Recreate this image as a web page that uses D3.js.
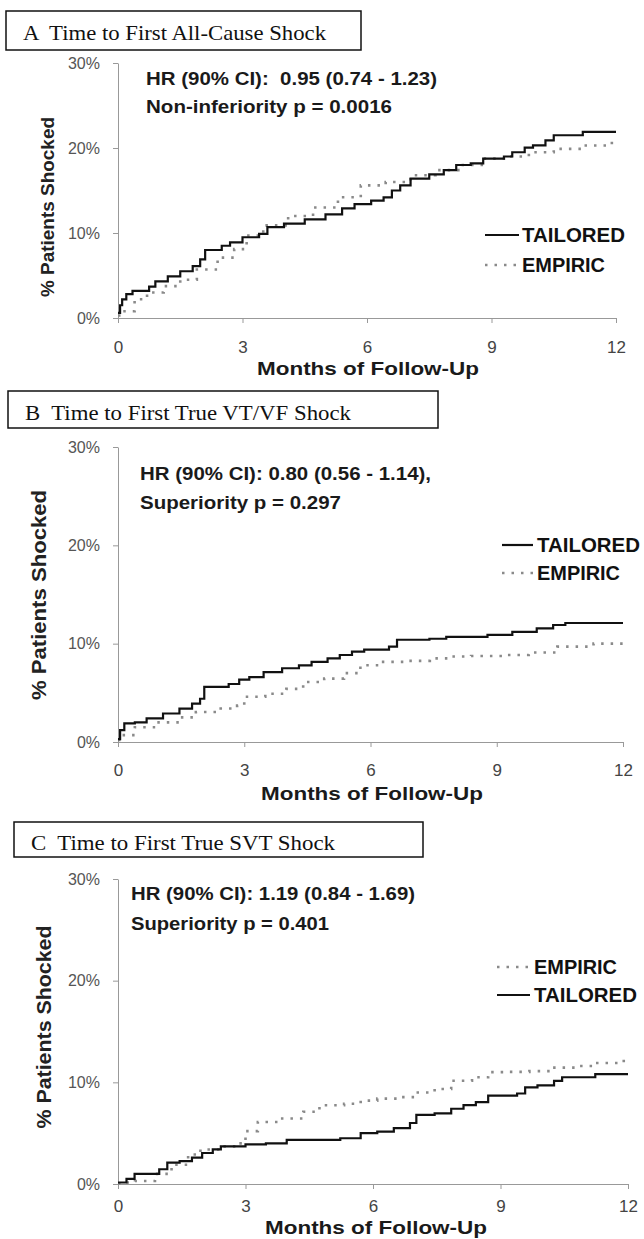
<!DOCTYPE html>
<html><head><meta charset="utf-8">
<script src="https://cdn.jsdelivr.net/npm/d3@7"></script>
<style>body{margin:0;background:#fff}svg{display:block}text{white-space:pre}</style>
</head><body>
<script>
// ---------- DATA ----------
const xTicks = [0, 3, 6, 9, 12];
const yTicks = [0, 10, 20, 30];
const titles = ["A  Time to First All-Cause Shock", "B  Time to First True VT/VF Shock", "C  Time to First True SVT Shock"];
const hrLines = ["HR (90% CI):  0.95 (0.74 - 1.23)", "HR (90% CI): 0.80 (0.56 - 1.14),", "HR (90% CI): 1.19 (0.84 - 1.69)"];
const pLines = ["Non-inferiority p = 0.0016", "Superiority p = 0.297", "Superiority p = 0.401"];
const seriesNames = ["TAILORED", "EMPIRIC"];

// [month, % shocked]
const tailoredA = [[0,0.6],[0.05,1.5],[0.1,2.2],[0.2,2.8],[0.35,3.2],[0.75,3.7],[0.9,4.3],[1.2,4.9],[1.5,5.5],[1.8,6.1],[1.98,6.9],[2.1,8.0],[2.5,8.5],[2.7,8.9],[3.0,9.5],[3.4,9.9],[3.6,10.7],[4.0,11.1],[4.5,11.6],[5.0,12.2],[5.4,12.9],[5.7,13.4],[6.1,13.8],[6.4,14.2],[6.6,15.0],[6.8,15.6],[7.05,16.4],[7.5,16.9],[7.85,17.4],[8.15,18.0],[8.5,18.2],[8.8,18.75],[9.3,19.0],[9.5,19.5],[9.8,20.05],[10.0,20.3],[10.3,20.9],[10.5,21.5],[11.2,21.9],[12,21.9]];
const empiricA = [[0,0.3],[0.1,0.8],[0.4,2.2],[0.7,3.0],[1.1,3.75],[1.5,4.5],[1.9,5.7],[2.4,7.1],[2.8,8.1],[3.1,9.7],[3.5,10.9],[4.1,12.0],[4.7,13.0],[5.3,14.2],[5.85,15.6],[6.45,16.0],[7.05,16.8],[7.65,17.4],[8.25,18.0],[8.8,18.75],[9.4,19.0],[9.9,19.5],[10.5,19.9],[11.2,20.3],[11.9,20.9],[12,20.9]];
const tailoredB = [[0,0.3],[0.05,1.2],[0.15,1.9],[0.4,2.0],[0.68,2.4],[1.07,2.9],[1.46,3.4],[1.76,3.9],[1.95,4.4],[2.05,5.6],[2.63,5.9],[2.88,6.35],[3.12,6.6],[3.46,7.1],[3.9,7.5],[4.3,7.8],[4.6,8.15],[4.98,8.5],[5.27,8.85],[5.56,9.2],[5.85,9.4],[6.44,9.7],[6.63,10.4],[7.4,10.5],[7.8,10.7],[8.78,10.9],[9.37,11.2],[9.95,11.55],[10.34,11.9],[10.63,12.1],[12,12.1]];
const empiricB = [[0,0.2],[0.1,0.7],[0.4,1.5],[0.9,2.0],[1.46,2.5],[1.85,3.05],[2.44,3.4],[2.83,3.7],[3.0,4.6],[3.5,4.9],[4.0,5.4],[4.4,6.1],[4.9,6.45],[5.37,7.0],[5.76,7.8],[6.24,8.15],[6.83,8.25],[7.41,8.5],[7.9,8.7],[8.39,8.75],[9.17,8.85],[9.76,9.1],[10.44,9.7],[11.3,10.0],[12,10.0]];
const tailoredC = [[0,0.15],[0.2,0.5],[0.39,1.0],[0.77,1.0],[0.97,1.45],[1.16,2.1],[1.45,2.25],[1.74,2.6],[1.98,3.05],[2.23,3.4],[2.42,3.7],[3.0,3.9],[3.48,4.0],[3.97,4.35],[5.23,4.5],[5.71,5.0],[6.1,5.15],[6.49,5.5],[6.87,6.0],[7.02,6.8],[7.45,6.95],[7.84,7.4],[8.13,7.75],[8.42,8.05],[8.71,8.7],[9.39,8.9],[9.58,9.5],[9.87,9.7],[10.26,10.15],[10.45,10.5],[11.23,10.8],[12,10.8]];
const empiricC = [[0,0.05],[0.1,0.15],[0.4,0.3],[0.87,1.0],[1.26,1.9],[1.65,2.9],[1.94,3.4],[2.42,3.7],[2.8,4.0],[3.0,5.2],[3.29,6.1],[3.78,6.45],[4.36,7.1],[4.74,7.75],[5.32,7.9],[5.71,8.2],[6.1,8.4],[6.68,8.55],[6.97,9.0],[7.45,9.35],[7.84,10.15],[8.33,10.5],[8.71,11.0],[9.2,11.03],[9.68,11.1],[10.16,11.45],[10.75,11.6],[11.23,11.9],[11.9,12.3],[12,12.3]];

// ---------- LAYOUT ----------
const panels = [
  {t:tailoredA, e:empiricA, x0:118, x1:616, y0:318, y30:63,
   box:[6,11,361,50], titleX:23, titleY:40, titleW:303,
   hrX:146, hrY:85, hrW:291, pY:113, pW:246,
   yTitle:[47,207,180,19], xTitleX:368, xTitleY:375, xLabY:347,
   legX0:485, legX1:519, legTx:522, legOrder:[["T",235],["E",265]]},
  {t:tailoredB, e:empiricB, x0:118, x1:623, y0:742, y30:447,
   box:[8,391,438,428], titleX:25, titleY:420, titleW:326,
   hrX:140, hrY:480, hrW:291, pY:509, pW:201,
   yTitle:[38,595,210,21], xTitleX:372, xTitleY:800, xLabY:770,
   legX0:502, legX1:533, legTx:537, legOrder:[["T",545],["E",573]]},
  {t:tailoredC, e:empiricC, x0:118, x1:628, y0:1184, y30:879,
   box:[14,822,423,857], titleX:31, titleY:850, titleW:304,
   hrX:131, hrY:900, hrW:284, pY:930, pW:198,
   yTitle:[43,1027,203,21], xTitleX:376, xTitleY:1234, xLabY:1206,
   legX0:497, legX1:530, legTx:534, legOrder:[["E",967],["T",995]]}
];

const W = 644, H = 1239;
const svg = d3.select("body").append("svg").attr("width", W).attr("height", H);
const sans = "Arial, 'Liberation Sans', Helvetica, sans-serif";
const serif = "'Times New Roman', 'Liberation Serif', Times, serif";

panels.forEach((p, i) => {
  const x = d3.scaleLinear().domain([0, 12]).range([p.x0, p.x1]);
  const y = d3.scaleLinear().domain([0, 30]).range([p.y0, p.y30]);

  // title box
  svg.append("rect").attr("x", p.box[0]).attr("y", p.box[1])
    .attr("width", p.box[2] - p.box[0]).attr("height", p.box[3] - p.box[1])
    .attr("fill", "none").attr("stroke", "#111").attr("stroke-width", 1.5);
  svg.append("text").attr("x", p.titleX).attr("y", p.titleY)
    .attr("font-family", serif).attr("font-size", 21).attr("fill", "#111")
    .attr("textLength", p.titleW).attr("lengthAdjust", "spacingAndGlyphs")
    .text(titles[i]);

  // y axis
  const gy = svg.append("g").attr("transform", `translate(${p.x0},0)`)
    .call(d3.axisLeft(y).tickValues(yTicks).tickFormat(d => d + "%").tickSize(5).tickSizeOuter(0).tickPadding(13));
  gy.select(".domain").attr("stroke", "#999");
  gy.selectAll(".tick line").attr("stroke", "#999");
  gy.selectAll(".tick text").attr("font-family", sans).attr("font-size", 16).attr("fill", "#555");

  // x axis
  const gx = svg.append("g").attr("transform", `translate(0,${p.y0})`)
    .call(d3.axisBottom(x).tickValues(xTicks).tickSize(5).tickSizeOuter(0));
  gx.select(".domain").attr("stroke", "#999");
  gx.selectAll(".tick line").attr("stroke", "#999");
  gx.selectAll(".tick text").attr("font-family", sans).attr("font-size", 17).attr("fill", "#444")
    .attr("y", p.xLabY - p.y0).attr("dy", "0.36em");

  // axis titles
  svg.append("text").attr("transform", `translate(${p.yTitle[0]},${p.yTitle[1]}) rotate(-90)`)
    .attr("text-anchor", "middle").attr("dy", "0.36em")
    .attr("font-family", sans).attr("font-weight", "bold").attr("font-size", p.yTitle[3]).attr("fill", "#222")
    .attr("textLength", p.yTitle[2]).attr("lengthAdjust", "spacingAndGlyphs")
    .text("% Patients Shocked");
  svg.append("text").attr("x", p.xTitleX).attr("y", p.xTitleY).attr("text-anchor", "middle")
    .attr("font-family", sans).attr("font-weight", "bold").attr("font-size", 19).attr("fill", "#1a1a1a")
    .attr("textLength", 222).attr("lengthAdjust", "spacingAndGlyphs")
    .text("Months of Follow-Up");

  // annotations
  svg.append("text").attr("x", p.hrX).attr("y", p.hrY)
    .attr("font-family", sans).attr("font-weight", "bold").attr("font-size", 19).attr("fill", "#1a1a1a")
    .attr("textLength", p.hrW).attr("lengthAdjust", "spacingAndGlyphs").text(hrLines[i]);
  svg.append("text").attr("x", p.hrX).attr("y", p.pY)
    .attr("font-family", sans).attr("font-weight", "bold").attr("font-size", 19).attr("fill", "#1a1a1a")
    .attr("textLength", p.pW).attr("lengthAdjust", "spacingAndGlyphs").text(pLines[i]);

  // curves
  const line = d3.line().x(d => x(d[0])).y(d => y(d[1])).curve(d3.curveStepAfter);
  svg.append("path").datum(p.e).attr("d", line).attr("fill", "none")
    .attr("stroke", "#8a8a8a").attr("stroke-width", 2.6).attr("stroke-dasharray", "2.5,7");
  svg.append("path").datum(p.t).attr("d", line).attr("fill", "none")
    .attr("stroke", "#111").attr("stroke-width", 2.2);

  // legend
  p.legOrder.forEach(([k, ly]) => {
    const isT = k === "T";
    svg.append("line").attr("x1", p.legX0).attr("x2", p.legX1).attr("y1", ly).attr("y2", ly)
      .attr("stroke", isT ? "#111" : "#8a8a8a").attr("stroke-width", isT ? 2.2 : 2.6)
      .attr("stroke-dasharray", isT ? null : "2.5,7");
    svg.append("text").attr("x", p.legTx).attr("y", ly).attr("dy", "0.36em")
      .attr("font-family", sans).attr("font-weight", "bold").attr("font-size", 20).attr("fill", "#111")
      .attr("textLength", isT ? 103 : 83).attr("lengthAdjust", "spacingAndGlyphs")
      .text(isT ? seriesNames[0] : seriesNames[1]);
  });
});
</script>
</body></html>
